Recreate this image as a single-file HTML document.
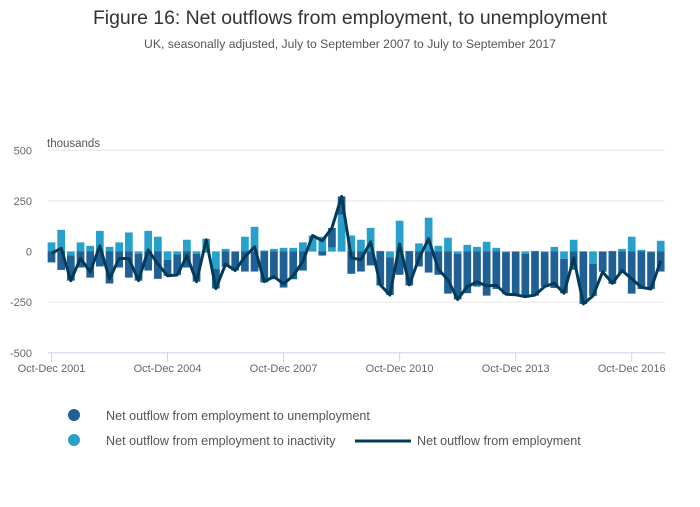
<!DOCTYPE html>
<html><head><meta charset="utf-8"><style>
body{margin:0;background:#fff;font-family:"Liberation Sans",sans-serif}
svg text{font-family:"Liberation Sans",sans-serif}
</style></head><body>
<svg id="chart" width="700" height="502" xmlns="http://www.w3.org/2000/svg">
<text x="350" y="24" text-anchor="middle" font-size="19.4" fill="#333">Figure 16: Net outflows from employment, to unemployment</text>
<text x="350" y="48" text-anchor="middle" font-size="12.2" fill="#555">UK, seasonally adjusted, July to September 2007 to July to September 2017</text>
<text x="47" y="147" font-size="11.5" fill="#555">thousands</text>
<g id="grid"></g><g id="bars"></g><g id="line"></g><g id="axes"></g>
<g>
<circle cx="74" cy="415" r="6" fill="#206095"/>
<text x="106" y="420" font-size="12.6" fill="#555">Net outflow from employment to unemployment</text>
<circle cx="74" cy="440" r="6" fill="#27a0cc"/>
<text x="106" y="445" font-size="12.6" fill="#555">Net outflow from employment to inactivity</text>
<line x1="355" y1="441" x2="411" y2="441" stroke="#003c57" stroke-width="3"/>
<text x="417" y="445" font-size="12.6" fill="#555">Net outflow from employment</text>
</g>
</svg>
<script>
const unemployment=[-54,-91,-124,-79,-129,-74,-158,-79,-129,-132,-94,-135,-79,-101,-79,-137,-5,-97,-75,-94,-99,-99,-153,-137,-178,-137,-94,0,-20,96,91,-110,-99,-69,-168,-185,-115,-168,-74,-104,-115,-208,-225,-206,-173,-218,-185,-208,-214,-211,-218,-170,-180,-170,-90,-259,-158,-100,-160,-107,-208,-185,-182,-99];
const inactivity=[45,107,-20,45,28,102,23,45,94,-12,102,73,-41,-15,58,-12,63,-86,13,0,73,122,5,13,18,18,45,79,73,20,181,79,58,117,3,-30,152,3,40,167,28,68,-12,33,23,48,18,-3,0,-12,3,-3,23,-36,58,0,-61,0,3,13,73,8,-3,53];
const yTicks=[-500,-250,0,250,500];
const xTickLabels=["Oct-Dec 2001","Oct-Dec 2004","Oct-Dec 2007","Oct-Dec 2010","Oct-Dec 2013","Oct-Dec 2016"];
const xTickIdx=[0,12,24,36,48,60];
const NS="http://www.w3.org/2000/svg";
const y=v=>251.5-v*(202.5/1000);
const step=9.67, x0=51.5;
const x=i=>x0+i*step;
function mk(tag,attrs,parent){const e=document.createElementNS(NS,tag);for(const k in attrs)e.setAttribute(k,attrs[k]);parent.appendChild(e);return e;}
const grid=document.getElementById('grid'),bars=document.getElementById('bars'),lineG=document.getElementById('line'),axes=document.getElementById('axes');
yTicks.forEach(t=>{
  const l=mk('line',{x1:48,x2:665,y1:y(t),y2:y(t),stroke:t===-500?'#ccd6eb':'#e6e6e6','stroke-width':1},grid);
  
  
  const tx=mk('text',{x:32,y:y(t)+4,'text-anchor':'end','font-size':11,fill:'#666'},axes);
  tx.textContent=t;
  
  
});
xTickIdx.forEach((idx,k)=>{
  const tk=mk('line',{x1:x(idx),x2:x(idx),y1:352,y2:362,stroke:'#ccd6eb'},axes);
  
  
  const tx=mk('text',{x:x(idx),y:372,'text-anchor':'middle','font-size':11,fill:'#666'},axes);
  tx.textContent=xTickLabels[k];
  
  
});
const bw=7.7;
const pts=[];
unemployment.forEach((u,i)=>{
  const a=inactivity[i];
  const aStart=0, aEnd=a;
  let uStart=0;
  if((u>=0&&a>=0)||(u<0&&a<0)) uStart=a;
  const uEnd=uStart+u;
  const r1=mk('rect',{x:x(i)-bw/2,y:Math.min(y(aStart),y(aEnd)),width:bw,height:Math.abs(y(aEnd)-y(aStart)),fill:'#27a0cc'},bars);
  
  
  const r2=mk('rect',{x:x(i)-bw/2,y:Math.min(y(uStart),y(uEnd)),width:bw,height:Math.abs(y(uEnd)-y(uStart)),fill:'#206095'},bars);
  
  
  pts.push(x(i).toFixed(1)+','+y(u+a).toFixed(1));
});
const pl=mk('polyline',{points:pts.join(' '),fill:'none',stroke:'#003c57','stroke-width':3,'stroke-linejoin':'round'},lineG);


</script>
</body></html>
